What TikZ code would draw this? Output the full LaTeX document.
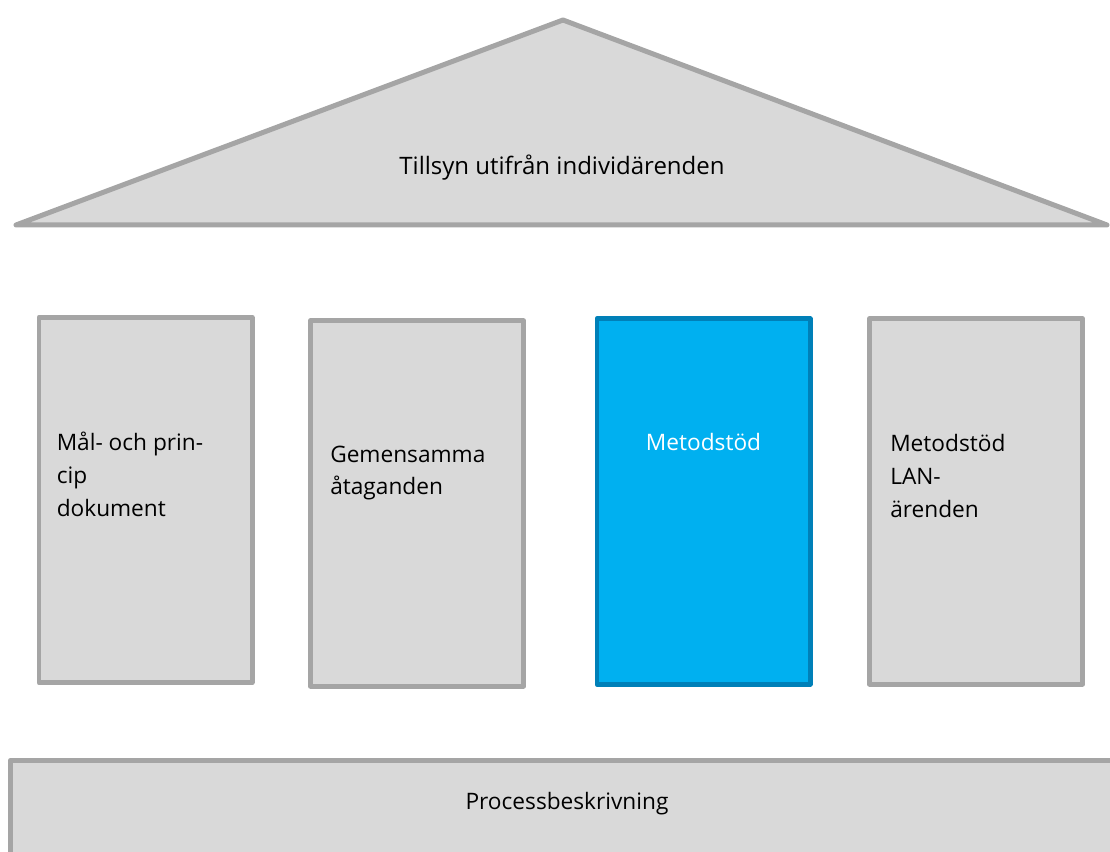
\documentclass[tikz,border=0pt]{standalone}
\usepackage{fontspec}
\setmainfont{Open Sans}
\usetikzlibrary{positioning}
\definecolor{pillarfill}{HTML}{D9D9D9}
\definecolor{pillarline}{HTML}{A5A5A5}
\definecolor{bluefill}{HTML}{00B0F0}
\definecolor{blueline}{HTML}{0080B8}

\begin{document}
\begin{tikzpicture}[x=0.75pt,y=-0.75pt,
    pillar/.style={rectangle, draw=pillarline, fill=pillarfill, line width=3.5pt,
        minimum width=160pt, minimum height=274pt, inner sep=0pt},
    bluepillar/.style={pillar, draw=blueline, fill=bluefill},
    lbl/.style={font=\fontsize{17}{24.5}\selectfont, inner sep=0pt, align=left, anchor=north west},
    line join=round]
    \useasboundingbox (0,0) rectangle (1110,852);

    % roof
    \coordinate (apex) at (563,20);
    \coordinate (eaveL) at (16,225);
    \coordinate (eaveR) at (1107,225);
    \draw[draw=pillarline, fill=pillarfill, line width=3.75pt] (apex) -- (eaveR) -- (eaveL) -- cycle;
    \node[lbl, anchor=base, font=\fontsize{18}{24.5}\selectfont] (rooftext) at (562,175) {Tillsyn utifrån individärenden};

    % pillars
    \node[pillar] (p1) at (145.5,500) {};
    \node[pillar] (p2) at (417,503.5) {};
    \node[bluepillar] (p3) at (703.5,501.5) {};
    \node[pillar] (p4) at (976,501.5) {};

    \node[lbl] (t1) at ([shift={(20,117)}]p1.north west) {Mål- och prin-\\cip\\dokument};
    \node[lbl] (t2) at ([shift={(22,127)}]p2.north west) {Gemensamma\\åtaganden};
    \node[lbl, anchor=north, text=white] (t3) at ([shift={(0,117)}]p3.north) {Metodstöd};
    \node[lbl] (t4) at ([shift={(23,118)}]p4.north west) {Metodstöd\\LAN-\\ärenden};

    % foundation
    \node[pillar, minimum width=834pt, minimum height=80pt, anchor=north west] (base) at (8,758) {};
    \node[lbl, anchor=base] (basetext) at (567,809) {Processbeskrivning};
\end{tikzpicture}
\end{document}
